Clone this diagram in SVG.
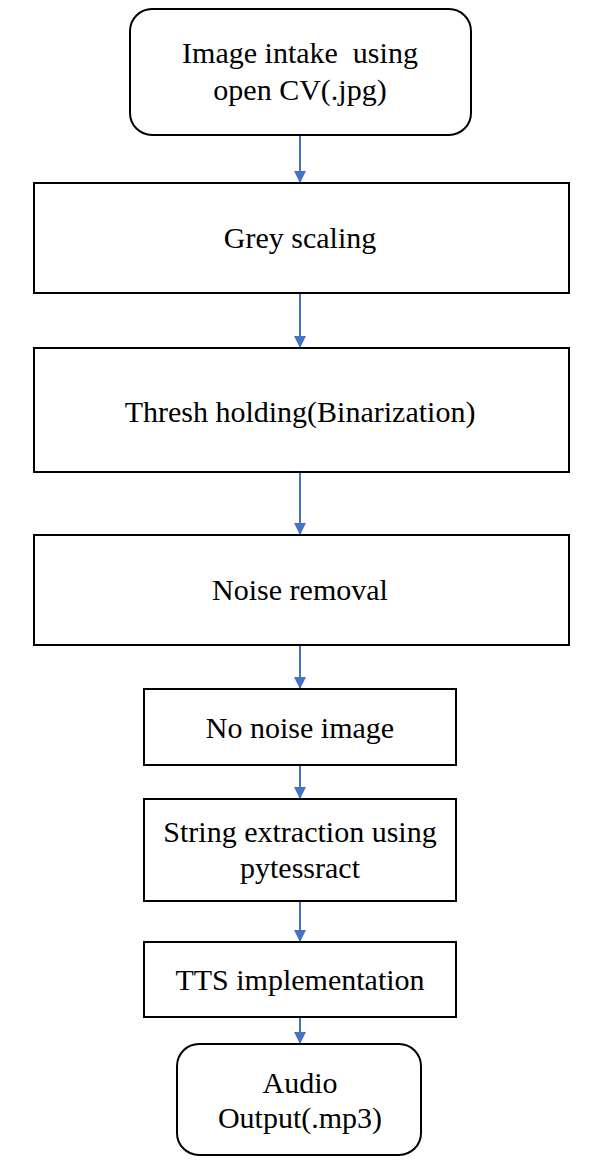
<svg xmlns="http://www.w3.org/2000/svg" width="602" height="1162" viewBox="0 0 602 1162">
<style>
.box{fill:#fff;stroke:#000;stroke-width:2}
.t{font-family:'Liberation Serif','DejaVu Serif',serif;font-size:30px;fill:#000;text-anchor:middle}
.c{stroke:#4472C4;stroke-width:2;fill:none}
</style>
<defs>
<marker id="ah" viewBox="0 0 12 12" refX="12" refY="6" markerWidth="12" markerHeight="12" markerUnits="userSpaceOnUse" orient="auto">
<path d="M0,0 L12,6 L0,12 Z" fill="#4472C4"/>
</marker>
</defs>
<rect width="602" height="1162" fill="#fff"/>
<g id="connectors">
<line class="c" x1="300" y1="135" x2="300" y2="183" marker-end="url(#ah)"/>
<line class="c" x1="300" y1="293" x2="300" y2="348" marker-end="url(#ah)"/>
<line class="c" x1="300" y1="472" x2="300" y2="535" marker-end="url(#ah)"/>
<line class="c" x1="300" y1="645" x2="300" y2="689" marker-end="url(#ah)"/>
<line class="c" x1="300" y1="765" x2="300" y2="799" marker-end="url(#ah)"/>
<line class="c" x1="300" y1="901" x2="300" y2="942" marker-end="url(#ah)"/>
<line class="c" x1="300" y1="1017" x2="300" y2="1044" marker-end="url(#ah)"/>
</g>
<g id="n1">
<rect class="box" x="130" y="9" width="341" height="126" rx="22" ry="22"/>
<text class="t" x="300" y="63" xml:space="preserve" font-family="Liberation Serif, serif">Image intake  using</text>
<text class="t" x="300" y="100" font-family="Liberation Serif, serif">open CV(.jpg)</text>
</g>
<g id="n2">
<rect class="box" x="34" y="183" width="535" height="110"/>
<text class="t" x="300" y="248">Grey scaling</text>
</g>
<g id="n3">
<rect class="box" x="34" y="348" width="535" height="124"/>
<text class="t" x="300" y="422">Thresh holding(Binarization)</text>
</g>
<g id="n4">
<rect class="box" x="34" y="535" width="535" height="110"/>
<text class="t" x="300" y="600">Noise removal</text>
</g>
<g id="n5">
<rect class="box" x="144" y="689" width="312" height="76"/>
<text class="t" x="300" y="738">No noise image</text>
</g>
<g id="n6">
<rect class="box" x="144" y="799" width="312" height="102"/>
<text class="t" x="300" y="842">String extraction using</text>
<text class="t" x="300" y="878">pytessract</text>
</g>
<g id="n7">
<rect class="box" x="144" y="942" width="312" height="75"/>
<text class="t" x="300" y="990">TTS implementation</text>
</g>
<g id="n8">
<rect class="box" x="177" y="1044" width="244" height="111" rx="22" ry="22"/>
<text class="t" x="300" y="1093">Audio</text>
<text class="t" x="300" y="1128">Output(.mp3)</text>
</g>
</svg>
